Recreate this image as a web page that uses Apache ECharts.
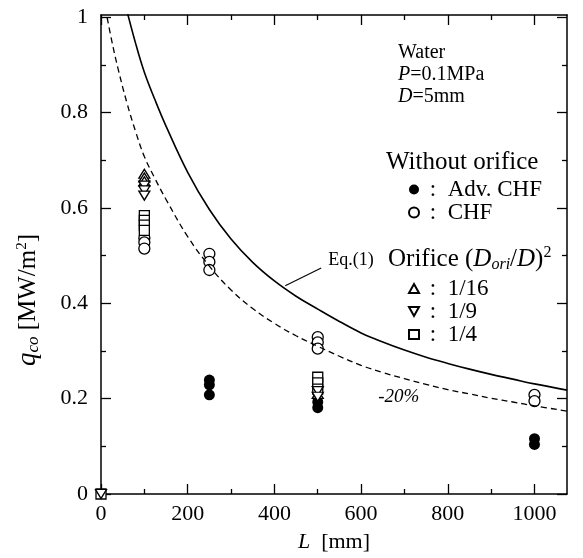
<!DOCTYPE html>
<html>
<head>
<meta charset="utf-8">
<script src="https://cdn.jsdelivr.net/npm/echarts@6/dist/echarts.min.js"></script>
<style>
  html, body { margin: 0; padding: 0; background: #fff; }
  #chart { width: 583px; height: 558px; }
</style>
</head>
<body>
<div id="chart"></div>
<script>
// axis ticks
var xMajor = [0, 200, 400, 600, 800, 1000]
var xMinor = [100, 300, 500, 700, 900]
var yMajor = [0, 0.2, 0.4, 0.6, 0.8, 1]
var yMinor = [0.1, 0.3, 0.5, 0.7, 0.9]

// Eq.(1) and the -20% line
var eqL = [58, 80, 100, 125, 150, 200, 250, 300, 350, 400, 450, 500, 550, 600, 650, 700, 750, 800, 850, 900, 950, 1000, 1075]
var eqQ = [1.02, 0.945, 0.885, 0.826, 0.772, 0.675, 0.597, 0.535, 0.486, 0.447, 0.415, 0.388, 0.362, 0.338, 0.319, 0.302, 0.287, 0.274, 0.262, 0.251, 0.241, 0.231, 0.218]
var lowL = [10, 25, 40, 60, 80, 100, 125, 150, 200, 250, 300, 350, 400, 450, 500, 550, 600, 650, 700, 750, 800, 850, 900, 950, 1000, 1075]
var lowQ = [1.02, 0.95, 0.89, 0.82, 0.76, 0.708, 0.661, 0.618, 0.54, 0.478, 0.428, 0.389, 0.358, 0.332, 0.31, 0.289, 0.27, 0.255, 0.242, 0.23, 0.219, 0.21, 0.201, 0.193, 0.185, 0.174]

// Without orifice
var advL = [250, 250, 250, 500, 500, 1000, 1000]
var advQ = [0.239, 0.229, 0.208, 0.193, 0.181, 0.116, 0.104]
var chfL = [100, 100, 100, 250, 250, 250, 500, 500, 500, 1000, 1000]
var chfQ = [0.537, 0.528, 0.515, 0.504, 0.487, 0.47, 0.329, 0.318, 0.305, 0.208, 0.195]

// Orifice (Dori/D)^2
var o16L = [100, 100, 100, 500]
var o16Q = [0.672, 0.664, 0.656, 0.21]
var o9L = [0, 100, 100, 100, 500, 500]
var o9Q = [0, 0.647, 0.637, 0.626, 0.216, 0.204]
var o4L = [0, 100, 100, 100, 100, 500, 500, 500]
var o4Q = [0, 0.584, 0.574, 0.564, 0.553, 0.245, 0.233, 0.22]

// annotation anchors (data coords)
var eqTextAt = [524, 0.491]
var eqArrowFrom = [508, 0.474]
var eqArrowTo = [425, 0.437]
var lowTextAt = [687, 0.204]

var FONT = 'Liberation Serif'
var downTri = 'path://M0,0 L10,0 L5,9 Z'

function zip(a, b) {
    return a.map(function (v, i) { return [v, b[i]] })
}

function frameAxis(pos, vals, len, opt) {
    var isX = pos === 'bottom' || pos === 'top'
    var a = {
        type: 'value',
        position: pos,
        min: opt.min,
        max: opt.max,
        splitLine: { show: false },
        axisLine: { show: opt.line, onZero: false, lineStyle: { color: '#000', width: 1.5 } },
        axisTick: { show: true, inside: true, length: len, customValues: vals, lineStyle: { color: '#000', width: 1.3 } },
        axisLabel: { show: false }
    }
    if (opt.labels) {
        a.axisLabel = {
            show: true,
            customValues: vals,
            margin: isX ? 9 : 13,
            color: '#000',
            fontFamily: FONT,
            fontSize: 22,
            formatter: function (v) { return String(v) }
        }
    }
    return a
}

var chart = echarts.init(document.getElementById('chart'), null, { renderer: 'canvas' })

var xr = { min: 0, max: 1075 }
var yr = { min: 0, max: 1.005 }

var xAxes = [
    Object.assign(frameAxis('bottom', xMajor, 10, { min: xr.min, max: xr.max, line: true, labels: true }), {
        name: '{i|L}  [mm]',
        nameLocation: 'middle',
        nameGap: 37,
        nameTextStyle: {
            color: '#000', fontFamily: FONT, fontSize: 22,
            rich: { i: { fontStyle: 'italic', fontFamily: FONT, fontSize: 22, color: '#000' } }
        }
    }),
    frameAxis('top', xMajor, 10, { min: xr.min, max: xr.max, line: true }),
    frameAxis('bottom', xMinor, 5, { min: xr.min, max: xr.max, line: false }),
    frameAxis('top', xMinor, 5, { min: xr.min, max: xr.max, line: false })
]

var yAxes = [
    frameAxis('left', yMajor, 10, { min: yr.min, max: yr.max, line: true, labels: true }),
    frameAxis('right', yMajor, 10, { min: yr.min, max: yr.max, line: true }),
    frameAxis('left', yMinor, 5, { min: yr.min, max: yr.max, line: false }),
    frameAxis('right', yMinor, 5, { min: yr.min, max: yr.max, line: false })
]

var hollow = { color: '#fff', borderColor: '#000', borderWidth: 1.3, opacity: 1 }
var solid = { color: '#000', opacity: 1 }

var option = {
    animation: false,
    backgroundColor: '#fff',
    grid: { left: 101, right: 16, top: 15, bottom: 60 },
    xAxis: xAxes,
    yAxis: yAxes,
    legend: [
        {
            orient: 'vertical', left: 403, top: 173, itemWidth: 10, itemHeight: 10, itemGap: 0,
            selectedMode: false,
            data: ['Adv. CHF', 'CHF'],
            formatter: function (n) { return ' :  ' + n },
            textStyle: { color: '#000', fontFamily: FONT, fontSize: 23, lineHeight: 23 }
        },
        {
            orient: 'vertical', left: 403, top: 272, itemWidth: 10, itemHeight: 9, itemGap: 0,
            selectedMode: false,
            data: [
                { name: '1/16', icon: 'triangle' },
                { name: '1/9', icon: downTri },
                { name: '1/4', icon: 'rect' }
            ],
            formatter: function (n) { return ' :  ' + n },
            textStyle: { color: '#000', fontFamily: FONT, fontSize: 23, lineHeight: 21 }
        }
    ],
    series: [
        {
            name: 'Eq.(1)', type: 'line', data: zip(eqL, eqQ), smooth: 0.4, showSymbol: false, clip: true,
            lineStyle: { color: '#000', width: 1.6 },
            markLine: {
                silent: true,
                symbol: ['none', 'arrow'],
                symbolSize: [0, 11],
                label: { show: false },
                lineStyle: { color: '#000', width: 1.1, type: 'solid' },
                data: [[{ coord: eqArrowFrom }, { coord: eqArrowTo }]]
            }
        },
        {
            name: '-20%', type: 'line', data: zip(lowL, lowQ), smooth: 0.4, showSymbol: false, clip: true,
            lineStyle: { color: '#000', width: 1.3, type: [6, 4] }
        },
        {
            name: 'Adv. CHF', type: 'scatter', data: zip(advL, advQ), symbol: 'circle', symbolSize: 11,
            itemStyle: solid
        },
        {
            name: 'CHF', type: 'scatter', data: zip(chfL, chfQ), symbol: 'circle', symbolSize: 11,
            itemStyle: hollow
        },
        {
            name: '1/4', type: 'scatter', data: zip(o4L, o4Q), symbol: 'rect', symbolSize: 10,
            itemStyle: hollow
        },
        {
            name: '1/16', type: 'scatter', data: zip(o16L, o16Q), symbol: 'triangle', symbolSize: [11, 9],
            itemStyle: hollow
        },
        {
            name: '1/9', type: 'scatter', data: zip(o9L, o9Q), symbol: 'triangle', symbolRotate: 180, symbolSize: [11, 9],
            itemStyle: hollow
        }
    ]
}

chart.setOption(option)

// text placed from data coords
var pEq = chart.convertToPixel({ xAxisIndex: 0, yAxisIndex: 0 }, eqTextAt)
var pLow = chart.convertToPixel({ xAxisIndex: 0, yAxisIndex: 0 }, lowTextAt)

function txt(x, y, text, size, rich, extra) {
    var r = {}
    Object.keys(rich || {}).forEach(function (k) {
        r[k] = Object.assign({ fontFamily: FONT, fontSize: size, fill: '#000' }, rich[k])
    })
    var el = {
        type: 'text', x: x, y: y, silent: true,
        style: {
            text: text, fill: '#000', fontFamily: FONT, fontSize: size,
            align: 'left', verticalAlign: 'middle', rich: r
        }
    }
    if (extra) {
        Object.assign(el.style, extra.style || {})
        if (extra.rotation) el.rotation = extra.rotation
    }
    return el
}

chart.setOption({
    graphic: [
        txt(398, 53, 'Water', 20),
        txt(398, 75, '{i|P}=0.1MPa', 20, { i: { fontStyle: 'italic' } }),
        txt(398, 97, '{i|D}=5mm', 20, { i: { fontStyle: 'italic' } }),
        txt(386, 162, 'Without orifice', 25),
        txt(388, 259, 'Orifice ({i|D}{sub|ori}/{i|D}){sup|2}', 25, {
            i: { fontStyle: 'italic' },
            sub: { fontStyle: 'italic', fontSize: 16, padding: [12, 0, 0, 0] },
            sup: { fontSize: 16, padding: [0, 0, 12, 0] }
        }),
        txt(pEq[0], pEq[1], 'Eq.(1)', 18),
        txt(pLow[0], pLow[1], '-20%', 19, null, { style: { align: 'center', fontStyle: 'italic' } }),
        // y axis name
        txt(28, 300, '{i|q}{sub|co} [MW/m{sup|2}]', 25, {
            i: { fontStyle: 'italic', fontSize: 27 },
            sub: { fontStyle: 'italic', fontSize: 17, padding: [12, 0, 0, 0] },
            sup: { fontSize: 15, padding: [0, 0, 12, 0] }
        }, { rotation: Math.PI / 2, style: { align: 'center' } })
    ]
})

window.addEventListener('resize', function () {
    chart.resize()
})
</script>
</body>
</html>
